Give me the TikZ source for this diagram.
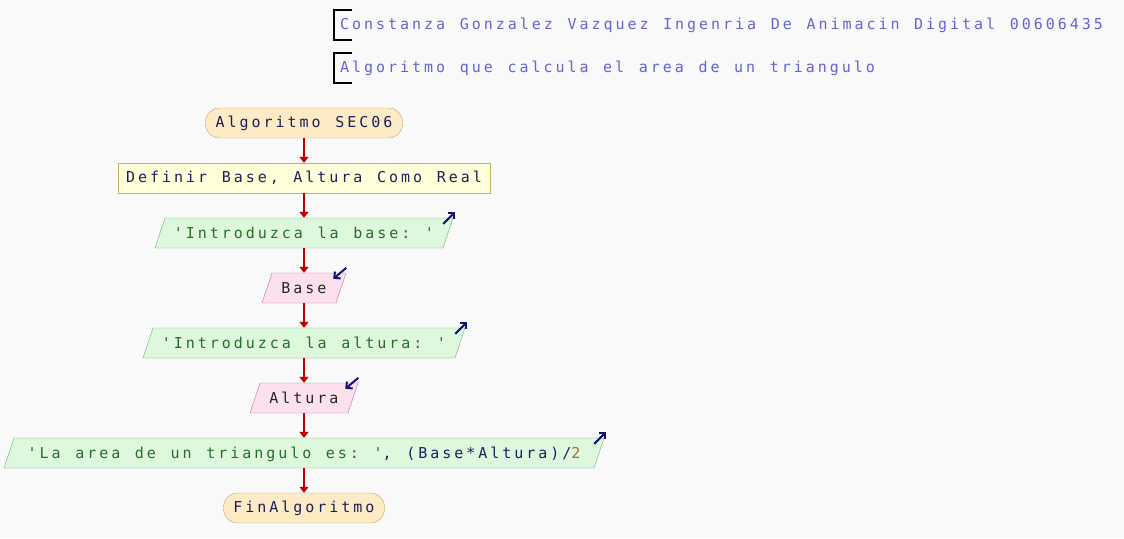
\documentclass[tikz,border=0pt]{standalone}
\usepackage{fontspec}
\setmonofont[LetterSpace=19.8, WordSpace=1.22]{DejaVu Sans Mono}
\usepackage{tikz}
\usetikzlibrary{shapes, arrows.meta, calc}

\definecolor{bg}{RGB}{249,249,250}
\definecolor{termfill}{RGB}{253,235,198}
\definecolor{termline}{RGB}{200,160,100}
\definecolor{deffill}{RGB}{255,255,217}
\definecolor{defline}{RGB}{200,180,90}
\definecolor{outfill}{RGB}{221,248,221}
\definecolor{outline}{RGB}{108,180,108}
\definecolor{infill}{RGB}{252,224,238}
\definecolor{inline}{RGB}{192,112,160}
\definecolor{navytext}{RGB}{30,30,90}
\definecolor{outtext}{RGB}{40,110,40}
\definecolor{numtext}{RGB}{160,110,60}
\definecolor{cmttext}{RGB}{100,100,210}
\definecolor{flowred}{RGB}{192,0,0}
\definecolor{iconblue}{RGB}{20,20,120}

\begin{document}
\begin{tikzpicture}[x=1pt, y=-1pt,
        every node/.style={font=\ttfamily\fontsize{15}{18}\selectfont},
        term/.style={rectangle, rounded corners=14pt, draw=termline, fill=termfill, text=navytext, minimum height=30pt, inner sep=0pt},
        defbox/.style={rectangle, draw=defline, fill=deffill, text=navytext, minimum height=30pt, inner sep=0pt},
        io/.style={trapezium, trapezium stretches body, trapezium left angle=71.6, trapezium right angle=108.4, inner sep=0pt, text height=20.5pt, text depth=9.5pt},
        outbox/.style={io, draw=outline, fill=outfill, text=outtext},
        inbox/.style={io, draw=inline, fill=infill, text=black!85},
        cmt/.style={anchor=west, inner sep=0pt, text=cmttext},
        bracket/.style={draw=black, line width=1.4pt},
        flow/.style={draw=flowred, line width=1.7pt, -{Triangle[length=6pt, width=9pt]}},
        icon/.style={draw=iconblue, line width=2pt, -{Straight Barb[length=4.5pt, width=9pt]}}]
        \useasboundingbox[fill=bg] (0, 0) rectangle (1124, 538);

        % comments
        \node[cmt] (c1) at (340, 25) {Constanza Gonzalez Vazquez Ingenria De Animacin Digital 00606435};
        \node[cmt] (c2) at (340, 68) {Algoritmo que calcula el area de un triangulo};
        \draw[bracket] ($(c1.west)+(12, -15)$) -- ++(-18, 0) -- ++(0, 30) -- ++(18, 0);
        \draw[bracket] ($(c2.west)+(12, -15)$) -- ++(-18, 0) -- ++(0, 30) -- ++(18, 0);

        % flow
        \node[term, minimum width=197pt] (start) at (304, 123) {Algoritmo SEC06};
        \node[defbox, minimum width=372pt] (def) at (304, 178) {Definir Base, Altura Como Real};
        \node[outbox, minimum width=298pt] (out1) at (304, 233) {'Introduzca la base: '};
        \node[inbox, minimum width=84pt] (in1) at (304, 288) {Base};
        \node[outbox, minimum width=322pt] (out2) at (304, 343) {'Introduzca la altura: '};
        \node[inbox, minimum width=108pt] (in2) at (304, 398) {Altura};
        \node[outbox, minimum width=600pt] (out3) at (304, 453) {'La area de un triangulo es: '\textcolor{navytext}{, (Base*Altura)/}\textcolor{numtext}{2}};
        \node[term, minimum width=161pt] (end) at (304, 508) {FinAlgoritmo};

        \path (start) edge[flow] (def)
            (def) edge[flow] (out1)
            (out1) edge[flow] (in1)
            (in1) edge[flow] (out2)
            (out2) edge[flow] (in2)
            (in2) edge[flow] (out3)
            (out3) edge[flow] (end);

        % io icons
        \draw[icon] ($(out1.top right corner)+(-10, 6)$) -- ++(12, -12);
        \draw[icon] ($(out2.top right corner)+(-10, 6)$) -- ++(12, -12);
        \draw[icon] ($(out3.top right corner)+(-10, 6)$) -- ++(12, -12);
        \draw[icon] ($(in1.top right corner)+(0, -5)$) -- ++(-13, 11);
        \draw[icon] ($(in2.top right corner)+(0, -5)$) -- ++(-13, 11);
\end{tikzpicture}
\end{document}
